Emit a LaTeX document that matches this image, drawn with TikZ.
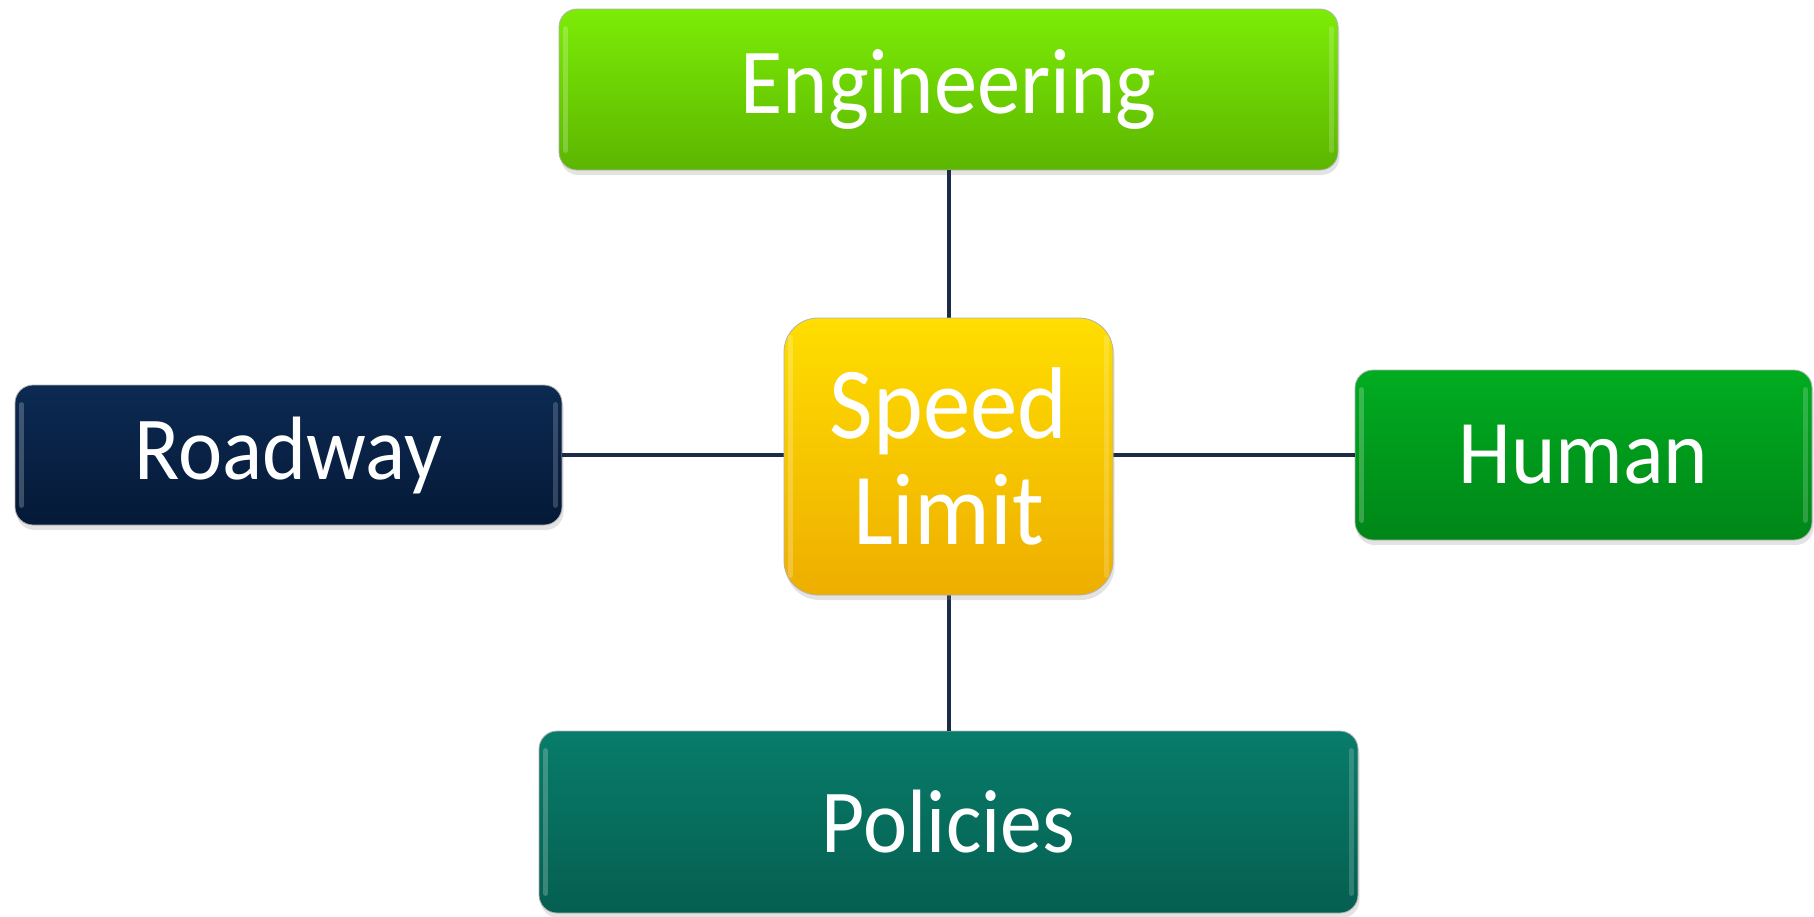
\documentclass[tikz,border=0pt]{standalone}
\usepackage{fontspec}
\setmainfont{Carlito}[FakeStretch=0.93]
\usetikzlibrary{shadows}
\definecolor{linkcol}{HTML}{1C2B48}
\begin{document}
\begin{tikzpicture}[x=1pt,y=-1pt,
  box/.style={rectangle, rounded corners=18pt, inner sep=0pt, align=center,
    text=white, font=\fontsize{90}{100}\selectfont, draw=black!30, line width=0.8pt,
    drop shadow={opacity=0.22, shadow xshift=1.5pt, shadow yshift=-5pt}},
  link/.style={draw=linkcol, line width=4pt}]
\useasboundingbox (0,0) rectangle (1814,916);

\node[box, minimum width=779pt, minimum height=161pt, font=\fontsize{93}{100}\selectfont,
  top color={rgb,255:red,124;green,236;blue,6}, bottom color={rgb,255:red,92;green,182;blue,0}]
  (eng) at (948.5,89.5) {Engineering};
\node[box, minimum width=547pt, minimum height=140pt,
  top color={rgb,255:red,12;green,42;blue,82}, bottom color={rgb,255:red,5;green,25;blue,55}]
  (road) at (288.5,455) {Roadway};
\node[box, minimum width=457pt, minimum height=170pt, font=\fontsize{91}{100}\selectfont,
  top color={rgb,255:red,0;green,172;blue,32}, bottom color={rgb,255:red,0;green,134;blue,24}]
  (human) at (1583.5,455) {Human};
\node[box, minimum width=819pt, minimum height=182pt,
  top color={rgb,255:red,8;green,124;blue,106}, bottom color={rgb,255:red,5;green,95;blue,80}]
  (pol) at (948.5,822) {Policies};

% connectors, drawn before the centre box so it covers the crossing
\draw[link] (eng.south) -- (eng.south |- pol.north);
\draw[link] (road.east) -- (road.east -| human.west);

\node[box, rounded corners=34pt, minimum width=329pt, minimum height=277pt,
  font=\fontsize{102}{106}\selectfont,
  top color={rgb,255:red,255;green,222;blue,0}, bottom color={rgb,255:red,238;green,174;blue,0}]
  (speed) at (948.5,456.5) {Speed\\Limit};

% soft bevel highlight along the side edges of each box
\foreach \n in {eng,road,human,pol,speed}{
  \draw[white, opacity=0.22, line width=5pt, line cap=round]
    ([xshift=7pt,yshift=-20pt]\n.north west) -- ([xshift=7pt,yshift=20pt]\n.south west);
  \draw[white, opacity=0.18, line width=5pt, line cap=round]
    ([xshift=-7pt,yshift=-20pt]\n.north east) -- ([xshift=-7pt,yshift=20pt]\n.south east);
}
\end{tikzpicture}
\end{document}
